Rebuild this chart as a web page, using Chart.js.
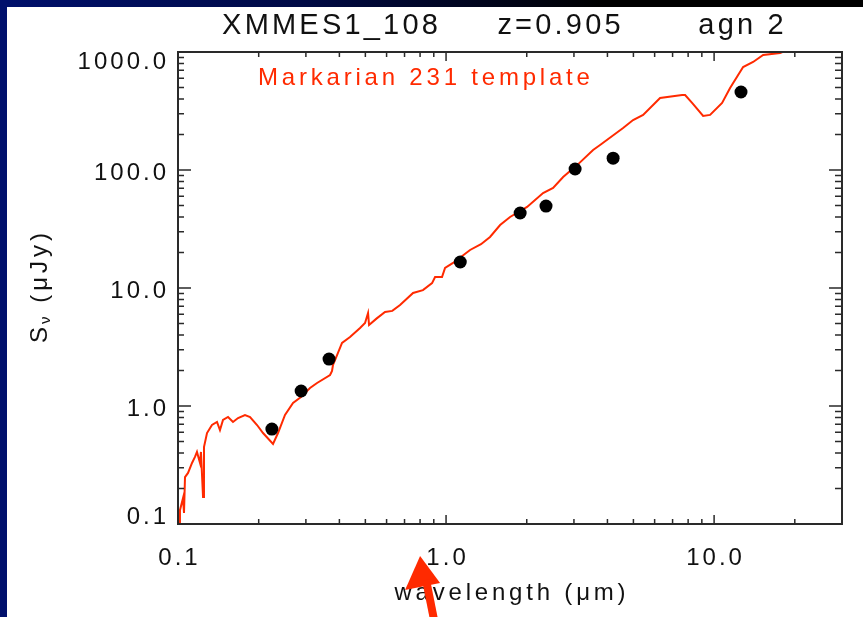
<!DOCTYPE html>
<html>
<head>
<meta charset="utf-8">
<script src="https://cdn.jsdelivr.net/npm/chart.js@4.4.0/dist/chart.umd.min.js"></script>
<style>
  html, body { margin: 0; padding: 0; background: #fff; }
  #wrap { width: 863px; height: 617px; }
</style>
</head>
<body>
<div id="wrap"><canvas id="sedChart" width="863" height="617"></canvas></div>
<script>
// Mrk 231 template (wavelength in um, flux in uJy)
const templateWave = [0.1009, 0.1017, 0.1044, 0.1053, 0.1062, 0.1090, 0.1128, 0.1157, 0.1177, 0.1208,
  0.1218, 0.1240, 0.1250, 0.1283, 0.1339, 0.1398, 0.1434, 0.1472, 0.1537, 0.1604,
  0.1675, 0.1778, 0.1857, 0.1972, 0.2076, 0.2262, 0.2361, 0.2507, 0.2686, 0.2877,
  0.3108, 0.3302, 0.3692, 0.3755, 0.3787, 0.3853, 0.4092, 0.4383, 0.4777, 0.4986,
  0.5117, 0.5161, 0.55, 0.592, 0.63, 0.6736, 0.7532, 0.82, 0.8867, 0.910, 0.966, 0.9915, 1.062,
  1.229, 1.35, 1.459, 1.591, 1.733, 2.006, 2.301, 2.508, 2.734, 3.083, 3.536,
  3.755, 4.576, 4.986, 5.435, 6.287, 7.597, 7.795, 8.277, 9.10, 9.66,
  10.71, 11.47, 12.83, 13.98, 15.24, 17.63, 20.9];
const templateFlux = [0.100, 0.131, 0.166, 0.124, 0.250, 0.271, 0.329, 0.370, 0.408, 0.329,
  0.408, 0.169, 0.449, 0.590, 0.690, 0.732, 0.626, 0.761, 0.807, 0.732,
  0.791, 0.839, 0.807, 0.690, 0.590, 0.477, 0.590, 0.839, 1.060, 1.192,
  1.42, 1.567, 1.83, 1.98, 2.23, 2.45, 3.42, 3.84, 4.58, 5.05,
  6.14, 4.86, 5.5, 6.26, 6.4, 7.18, 9.07, 9.6, 11.0, 12.4, 12.4, 14.8, 16.3,
  21.0, 23.5, 27.1, 34.2, 40.0, 48.6, 63.8, 70.4, 87.3, 110, 148,
  163, 227, 265, 293, 408, 432, 432, 370, 287, 293,
  370, 495, 746, 823, 944, 981, 1146];

// photometry
const photWave = [0.224, 0.288, 0.366, 1.13, 1.89, 2.36, 3.03, 4.20, 12.6];
const photFlux = [0.638, 1.34, 2.50, 16.6, 43.2, 49.5, 102, 126, 458];

const xTicks = [0.1, 1, 10];
const xTickLabels = ['0.1', '1.0', '10.0'];
const yTicks = [0.1, 1, 10, 100, 1000];
const yTickLabels = ['0.1', '1.0', '10.0', '100.0', '1000.0'];

const RED = '#ff2a00';
const AXIS = '#2a2a2a';
const FONT = '"Liberation Sans", Arial, sans-serif';

function minorTicks(majors, min, max) {
  const out = [];
  majors.forEach(d => {
    for (let k = 2; k <= 9; k++) {
      const v = d * k;
      if (v > min && v < max) out.push(v);
    }
  });
  return out;
}

function spacedText(c, s, x, y, sp, align) {
  c.letterSpacing = '0px';
  const w = c.measureText(s).width + sp * (s.length - 1);
  let left = x;
  if (align === 'center') left = x - w / 2;
  if (align === 'right') left = x - w;
  c.letterSpacing = sp + 'px';
  c.textAlign = 'left';
  c.fillText(s, left, y);
  c.letterSpacing = '0px';
  return w + sp;
}

const frame = {
  id: 'frame',
  beforeDraw(chart) {
    const c = chart.ctx;
    c.save();
    c.fillStyle = '#fff';
    c.fillRect(0, 0, chart.width, chart.height);
    const g = c.createLinearGradient(0, 0, chart.width, 0);
    g.addColorStop(0, '#00106c');
    g.addColorStop(0.35, '#000a45');
    g.addColorStop(0.7, '#000000');
    c.fillStyle = g;
    c.fillRect(0, 0, chart.width, 7);
    c.fillStyle = '#00106c';
    c.fillRect(0, 0, 7, chart.height);
    c.restore();
  },
  afterDraw(chart) {
    const c = chart.ctx;
    const a = chart.chartArea;
    const xs = chart.scales.x, ys = chart.scales.y;
    c.save();

    // box
    c.strokeStyle = AXIS;
    c.lineWidth = 2;
    c.strokeRect(a.left, a.top, a.right - a.left, a.bottom - a.top);

    // ticks, inward on all four sides
    c.lineWidth = 1.5;
    c.beginPath();
    const xMin = minorTicks(xTicks, 0.1, 30);
    xTicks.concat(xMin).forEach((v, i) => {
      const px = xs.getPixelForValue(v);
      const major = i < xTicks.length;
      c.moveTo(px, a.bottom); c.lineTo(px, a.bottom - (major ? 9 : 5));
      c.moveTo(px, a.top); c.lineTo(px, a.top + (major ? 9 : 5));
    });
    const yMin = minorTicks(yTicks, 0.1, 1000);
    yTicks.concat(yMin).forEach((v, i) => {
      const py = ys.getPixelForValue(v);
      const major = i < yTicks.length;
      c.moveTo(a.left, py); c.lineTo(a.left + (major ? 13 : 6), py);
      c.moveTo(a.right, py); c.lineTo(a.right - (major ? 13 : 7), py);
    });
    c.stroke();

    // tick labels
    c.fillStyle = '#111';
    c.font = '24px ' + FONT;
    c.textBaseline = 'alphabetic';
    yTicks.forEach((v, i) => {
      let py = ys.getPixelForValue(v) + 10;
      if (i === 0) py = a.bottom;
      if (i === yTicks.length - 1) py = a.top + 17;
      spacedText(c, yTickLabels[i], 166, py, 3, 'right');
    });
    xTicks.forEach((v, i) => {
      spacedText(c, xTickLabels[i], xs.getPixelForValue(v), a.bottom + 41, 3, 'center');
    });

    // title
    c.font = '29px ' + FONT;
    spacedText(c, 'XMMES1_108', 330, 34, 3.2, 'center');
    spacedText(c, 'z=0.905', 559, 34, 3.2, 'center');
    spacedText(c, 'agn 2', 741, 34, 3.2, 'center');

    // template name
    c.fillStyle = RED;
    c.font = '24px ' + FONT;
    spacedText(c, 'Markarian 231 template', 258, 85, 3.8, 'left');

    // x title
    c.fillStyle = '#111';
    c.font = '24px ' + FONT;
    spacedText(c, 'wavelength (\u03bcm)', (a.left + a.right) / 2, 600, 3.8, 'center');

    // y title: S_nu (uJy)
    c.save();
    c.translate(47, (a.top + a.bottom) / 2);
    c.rotate(-Math.PI / 2);
    c.font = '24px ' + FONT;
    c.letterSpacing = '0px';
    const wS = c.measureText('S').width;
    c.font = '15px ' + FONT;
    const wNu = c.measureText('\u03bd').width;
    c.font = '24px ' + FONT;
    const rest = ' (\u03bcJy)';
    const wRest = c.measureText(rest).width + 4 * (rest.length - 1);
    let x0 = -(wS + 3 + wNu + 3 + wRest) / 2;
    c.fillText('S', x0, 0);
    x0 += wS + 3;
    c.font = '15px ' + FONT;
    c.fillText('\u03bd', x0, 3);
    x0 += wNu + 3;
    c.font = '24px ' + FONT;
    spacedText(c, rest, x0, 0, 4, 'left');
    c.restore();

    // red arrow under the axis
    const ax = xs.getPixelForValue(0.8);
    c.fillStyle = RED;
    c.beginPath();
    c.moveTo(ax, 556);
    c.lineTo(ax - 15, 590);
    c.lineTo(ax + 20, 583);
    c.closePath();
    c.fill();
    c.strokeStyle = RED;
    c.lineWidth = 8;
    c.beginPath();
    c.moveTo(ax + 6, 580);
    c.lineTo(ax + 14, 620);
    c.stroke();

    c.restore();
  }
};

const templatePts = templateWave.map((w, i) => ({ x: w, y: templateFlux[i] }));
const photPts = photWave.map((w, i) => ({ x: w, y: photFlux[i] }));

const ctx = document.getElementById('sedChart').getContext('2d');
new Chart(ctx, {
  type: 'scatter',
  data: {
    datasets: [{
      label: 'Markarian 231 template',
      data: templatePts,
      showLine: true,
      borderColor: RED,
      borderWidth: 2,
      pointRadius: 0,
      tension: 0,
      order: 1
    }, {
      label: 'photometry',
      data: photPts,
      backgroundColor: '#000',
      borderWidth: 0,
      pointRadius: 6.5,
      order: 0
    }]
  },
  options: {
    responsive: false,
    animation: false,
    devicePixelRatio: 1,
    events: [],
    layout: { padding: { left: 178, top: 52, right: 21, bottom: 93 } },
    plugins: { legend: { display: false }, tooltip: { enabled: false }, title: { display: false } },
    scales: {
      x: { type: 'logarithmic', min: 0.1, max: 30, display: false },
      y: { type: 'logarithmic', min: 0.1, max: 1000, display: false }
    }
  },
  plugins: [frame]
});
</script>
</body>
</html>
